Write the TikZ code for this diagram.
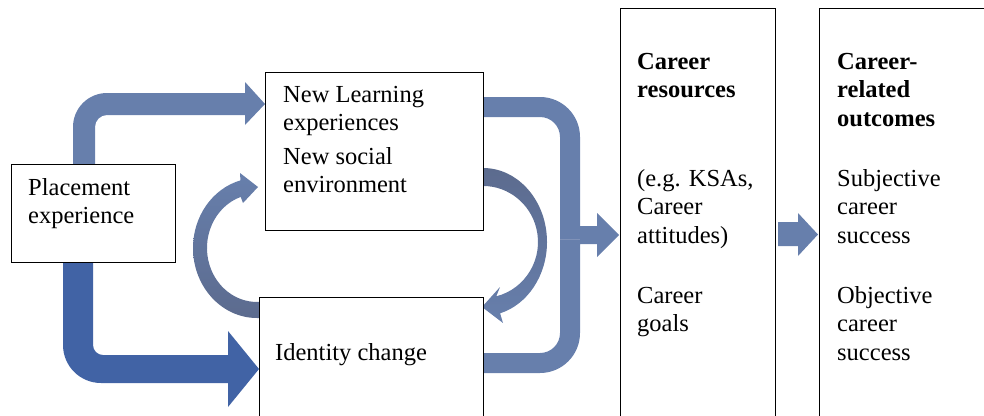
\documentclass[tikz,border=0pt]{standalone}
\usepackage{fontspec}
\setmainfont{Liberation Serif}
\definecolor{steel}{RGB}{103,127,172}
\definecolor{deepblue}{RGB}{65,99,165}
\definecolor{greyblue}{RGB}{92,107,142}
\definecolor{seam}{RGB}{128,146,184}
\begin{document}
\begin{tikzpicture}[x=1pt,y=-1pt,
  box/.style={draw=black,line width=0.8pt,fill=white,inner sep=0pt,anchor=north west},
  txt/.style={anchor=base west,inner sep=0pt,align=left,font=\fontsize{24.5}{28.5}\selectfont},
  boldtxt/.style={txt,font=\fontsize{24.5}{28.5}\selectfont\bfseries},
  blockarrow/.style={fill=steel,draw=none},
  curlarrow/.style={draw=none}]
\useasboundingbox (0,0) rectangle (984,415);
\clip (0,0) rectangle (984,415);

% placement -> new learning (bent block arrow)
\path[blockarrow] (73,166) -- (73,127) arc[start angle=180,end angle=90,radius=34pt]
  -- (245,93) -- (245,82) -- (265,104) -- (245,125) -- (245,115) -- (107,115)
  arc[start angle=90,end angle=180,radius=12pt] -- (95,166) -- cycle;

% placement -> identity change (bent block arrow)
\path[fill=deepblue] (63,260) -- (63,345) arc[start angle=180,end angle=270,radius=38pt]
  -- (228,383) -- (228,407) -- (259,369) -- (228,331) -- (228,355) -- (103,355)
  arc[start angle=270,end angle=180,radius=10pt] -- (93,260) -- cycle;

% bracket joining both boxes into career resources
\path[blockarrow] (478,97) -- (540,97) arc[start angle=90,end angle=0,radius=40pt]
  -- (580,226) -- (597,226) -- (597,213) -- (619,235) -- (597,257) -- (597,244)
  -- (580,244) -- (580,333) arc[start angle=0,end angle=-90,radius=40pt]
  -- (478,373) -- (478,353) -- (540,353) arc[start angle=270,end angle=360,radius=20pt]
  -- (560,137) arc[start angle=0,end angle=90,radius=20pt] -- (478,117) -- cycle;
\draw[seam,line width=0.6pt] (560,239) -- (580,239);

% career resources -> career-related outcomes
\path[blockarrow] (778,222) -- (798,222) -- (798,213) -- (818,234.5) -- (798,256)
  -- (798,246) -- (778,246) -- cycle;

% identity change curls back up to the new environment box
\path[curlarrow,top color=steel,bottom color=greyblue]
  (261,318) -- (257,318) arc[start angle=270,end angle=105,x radius=64pt,y radius=70pt]
  -- (240,173) -- (258,187) -- (243,203) -- (240.7,196.9)
  arc[start angle=109,end angle=270,x radius=50pt,y radius=54pt] -- (261,302) -- cycle;

% new environment curls down to identity change
\path[curlarrow,top color=greyblue,bottom color=steel]
  (479,168) -- (483,168) arc[start angle=90,end angle=-74.5,x radius=64pt,y radius=74pt]
  -- (503,323) -- (482,307) -- (500,287) -- (496.3,296.3)
  arc[start angle=-76,end angle=90,x radius=55pt,y radius=56pt] -- (479,186) -- cycle;

% boxes
\node[box,minimum width=164pt,minimum height=98pt] (place) at (11,164) {};
\node[box,minimum width=218pt,minimum height=158pt] (learn) at (265,72) {};
\node[box,minimum width=224pt,minimum height=140pt] (ident) at (259,297) {};
\node[box,minimum width=155pt,minimum height=430pt] (res) at (620,8) {};
\node[box,minimum width=180pt,minimum height=430pt] (out) at (819,8) {};

% texts (each node is anchored on the baseline of its last line)
\node[txt] (tplace) at (28,223.5) {Placement\\experience};
\node[txt] (tlearn) at (283,130.5) {New Learning\\experiences};
\node[txt] (tsocial) at (283,192.5) {New social\\environment};
\node[txt] (tident) at (275,360) {Identity change};
\node[boldtxt] (tres) at (637,97.5) {Career\\resources};
\node[txt] (tksa) at (637,243) {(e.g. KSAs,\\Career\\attitudes)};
\node[txt] (tgoal) at (637,331.5) {Career\\goals};
\node[boldtxt] (tout) at (837,126) {Career-\\related\\outcomes};
\node[txt] (tsubj) at (837,243) {Subjective\\career\\success};
\node[txt] (tobj) at (837,360) {Objective\\career\\success};
\end{tikzpicture}
\end{document}
